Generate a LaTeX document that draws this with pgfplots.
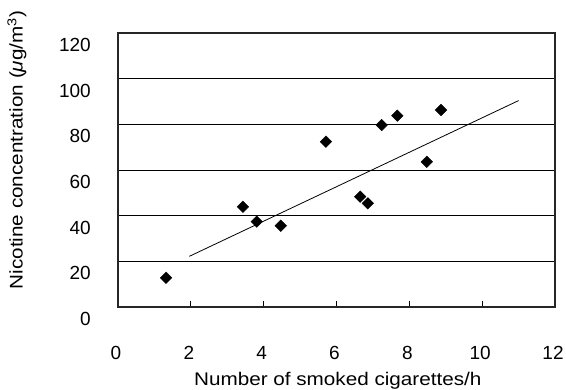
\documentclass[border=0pt]{standalone}
\usepackage{fontspec}
\setmainfont{Liberation Sans}
\usepackage{graphicx}
\usepackage{pgfplots}
\pgfplotsset{compat=1.18}
\begin{document}
\begin{tikzpicture}
\begin{axis}[
  name=ax,
  scale only axis,
  width=437pt, height=274pt,
  xmin=0, xmax=12, ymin=0, ymax=120,
  xtick={0,2,4,6,8,10,12},
  ytick={0,20,40,60,80,100,120},
  /pgf/number format/assume math mode=true,
  tick align=inside,
  xtick pos=bottom,
  major tick length=6pt,
  x tick style={black, line width=0.8pt},
  y tick style={draw=none},
  ymajorgrids,
  major grid style={black, line width=0.9pt},
  axis line style={black!85, line width=1.3pt},
  tick label style={font=\fontsize{19}{21}\selectfont},
  xticklabel style={anchor=north, inner sep=0pt, yshift=-39.5pt, xshift=-2pt},
  yticklabel style={anchor=east, inner sep=0pt, xshift=-27pt, yshift=-12pt},
  xlabel={\scalebox{1.13}[1]{Number of smoked cigarettes/h}},
  ylabel={\scalebox{1.13}[1]{Nicotine concentration (\textit{μ}g/m\textsuperscript{3})}},
  label style={font=\fontsize{18.3}{21}\selectfont},
  xlabel style={at={(axis description cs:0.503,0)}, anchor=base, yshift=-78pt, inner sep=0pt},
  ylabel style={at={(axis description cs:-0.2311,0.573)}, anchor=center, inner sep=0pt},
  clip=false,
]
\addplot[only marks, mark=square*, mark size=4.1pt, mark options={rotate=45, fill=black, draw=black}]
coordinates {
 (1.32,12.8) (3.43,43.9) (3.81,37.4) (4.47,35.6) (5.71,72.4) (6.65,48.3)
 (6.86,45.4) (7.24,79.7) (7.67,83.8) (8.48,63.6) (8.87,86.3)
};
\addplot[black, line width=0.8pt, mark=none] coordinates {(1.96,22.2) (11.0,90.4)};
\end{axis}
\pgfresetboundingbox
\path[use as bounding box] ([xshift=-118pt,yshift=-82pt]ax.south west) rectangle ([xshift=11pt,yshift=33pt]ax.north east);
\end{tikzpicture}
\end{document}
